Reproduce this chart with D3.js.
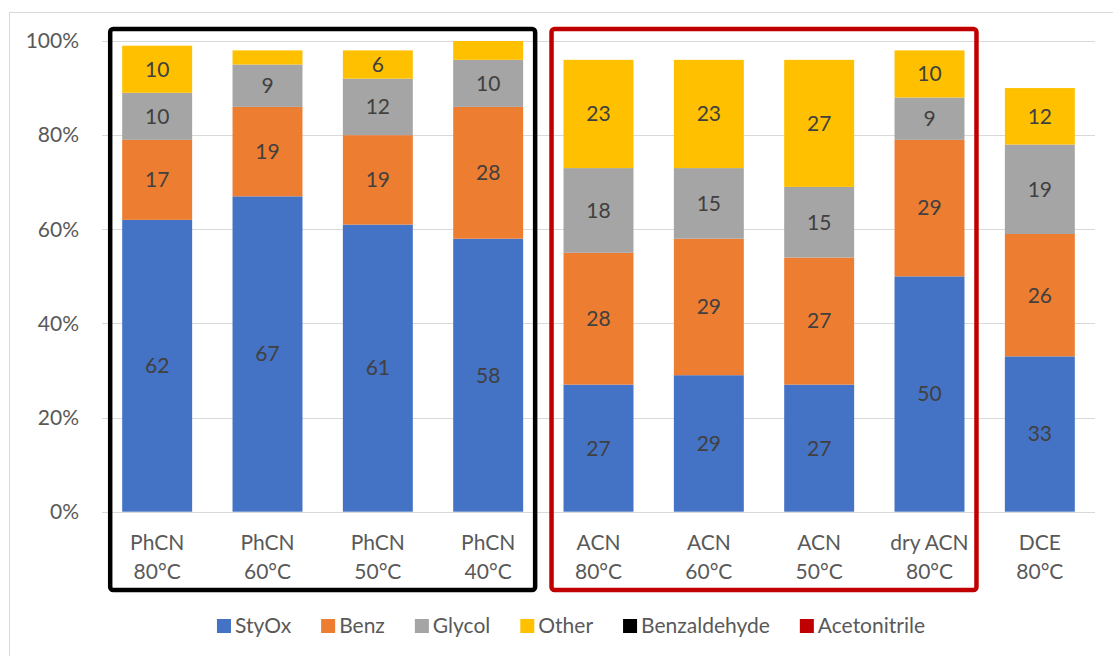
<!DOCTYPE html>
<html><head><meta charset="utf-8">
<script src="https://cdn.jsdelivr.net/npm/d3@7"></script>
<style>body{margin:0;background:#fff}svg{display:block}text{font-family:Lato,"Open Sans",sans-serif}</style>
</head><body><svg id="c" width="1113" height="656"></svg>
<script>
const categories = [["PhCN","80°C"],["PhCN","60°C"],["PhCN","50°C"],["PhCN","40°C"],["ACN","80°C"],["ACN","60°C"],["ACN","50°C"],["dry ACN","80°C"],["DCE","80°C"]];
const seriesNames = ["StyOx","Benz","Glycol","Other"];
const styOx  = [62,67,61,58,27,29,27,50,33];
const benz   = [17,19,19,28,28,29,27,29,26];
const glycol = [10, 9,12,10,18,15,15, 9,19];
const other  = [10, 3, 6, 4,23,23,27,10,12];
const yTicks = [0,20,40,60,80,100];
const groups = [{name:"Benzaldehyde", from:0, to:3, color:"#000000"},{name:"Acetonitrile", from:4, to:7, color:"#C00000"}];
const colors = ["#4472C4","#ED7D31","#A5A5A5","#FFC000"];

const svg = d3.select("#c");
const keys = categories.map((c,i)=>i);
const x = d3.scaleBand().domain(keys).range([102,1095]).paddingInner(0.366).paddingOuter(0.183);
const y = d3.scaleLinear().domain([0,100]).range([511.7,41]);

svg.append("rect").attr("x",9.5).attr("y",12.5).attr("width",1110).attr("height",660).attr("fill","none").attr("stroke","#d9d9d9").attr("stroke-width",1);

// gridlines
svg.append("g").selectAll("line").data(yTicks).join("line")
  .attr("x1",102).attr("x2",1095).attr("y1",d=>Math.round(y(d))+0.5).attr("y2",d=>Math.round(y(d))+0.5)
  .attr("stroke","#d9d9d9").attr("stroke-width",1);
svg.append("g").selectAll("text").data(yTicks).join("text")
  .attr("x",79).attr("y",d=>y(d)).attr("dy","0.35em").attr("text-anchor","end")
  .attr("font-size",21).attr("fill","#595959").text(d=>d+"%");

const rows = keys.map(i=>({i, StyOx:styOx[i], Benz:benz[i], Glycol:glycol[i], Other:other[i]}));
const stack = d3.stack().keys(seriesNames)(rows);
const g = svg.append("g");
stack.forEach((s,si)=>{
  g.selectAll(null).data(s).join("rect")
    .attr("x",d=>x(d.data.i)).attr("width",x.bandwidth())
    .attr("y",d=>y(d[1])).attr("height",d=>y(d[0])-y(d[1]))
    .attr("fill",colors[si]);
  g.selectAll(null).data(s.filter(d=>d[1]-d[0]>=5)).join("text")
    .attr("x",d=>x(d.data.i)+x.bandwidth()/2).attr("y",d=>y((d[0]+d[1])/2)).attr("dy","0.35em")
    .attr("text-anchor","middle").attr("font-size",21).attr("fill","#404040")
    .text(d=>d[1]-d[0]);
});

// category labels
const cl = svg.append("g");
categories.forEach((c,i)=>{
  c.forEach((line,li)=>{
    cl.append("text").attr("x",x(i)+x.bandwidth()/2).attr("y",543+li*29).attr("dy","0.35em")
      .attr("text-anchor","middle").attr("font-size",21).attr("fill","#595959").text(line);
  });
});

// group boxes
const pad = 12;
groups.forEach(gr=>{
  const x0 = x(gr.from)-pad, x1 = x(gr.to)+x.bandwidth()+pad;
  svg.append("rect").attr("x",x0).attr("y",29).attr("width",x1-x0).attr("height",561)
    .attr("rx",3).attr("fill","none").attr("stroke",gr.color).attr("stroke-width",4.5);
});

// legend
const legendItems = seriesNames.map((n,i)=>({name:n,color:colors[i]})).concat(groups.map(gr=>({name:gr.name,color:gr.color})));
const lg = svg.append("g");
const gap = 30;
let cx = 0;
legendItems.forEach(it=>{
  const gi = lg.append("g");
  gi.append("rect").attr("x",0).attr("y",-7).attr("width",14).attr("height",14).attr("fill",it.color);
  const t = gi.append("text").attr("x",18).attr("y",0).attr("dy","0.35em").attr("font-size",21).attr("fill","#595959").text(it.name);
  const w = 18 + t.node().getComputedTextLength();
  gi.attr("transform",`translate(${cx},626)`);
  cx += w + gap;
});
const total = cx - gap;
lg.attr("transform",`translate(${571 - total/2},0)`);
</script></body></html>
